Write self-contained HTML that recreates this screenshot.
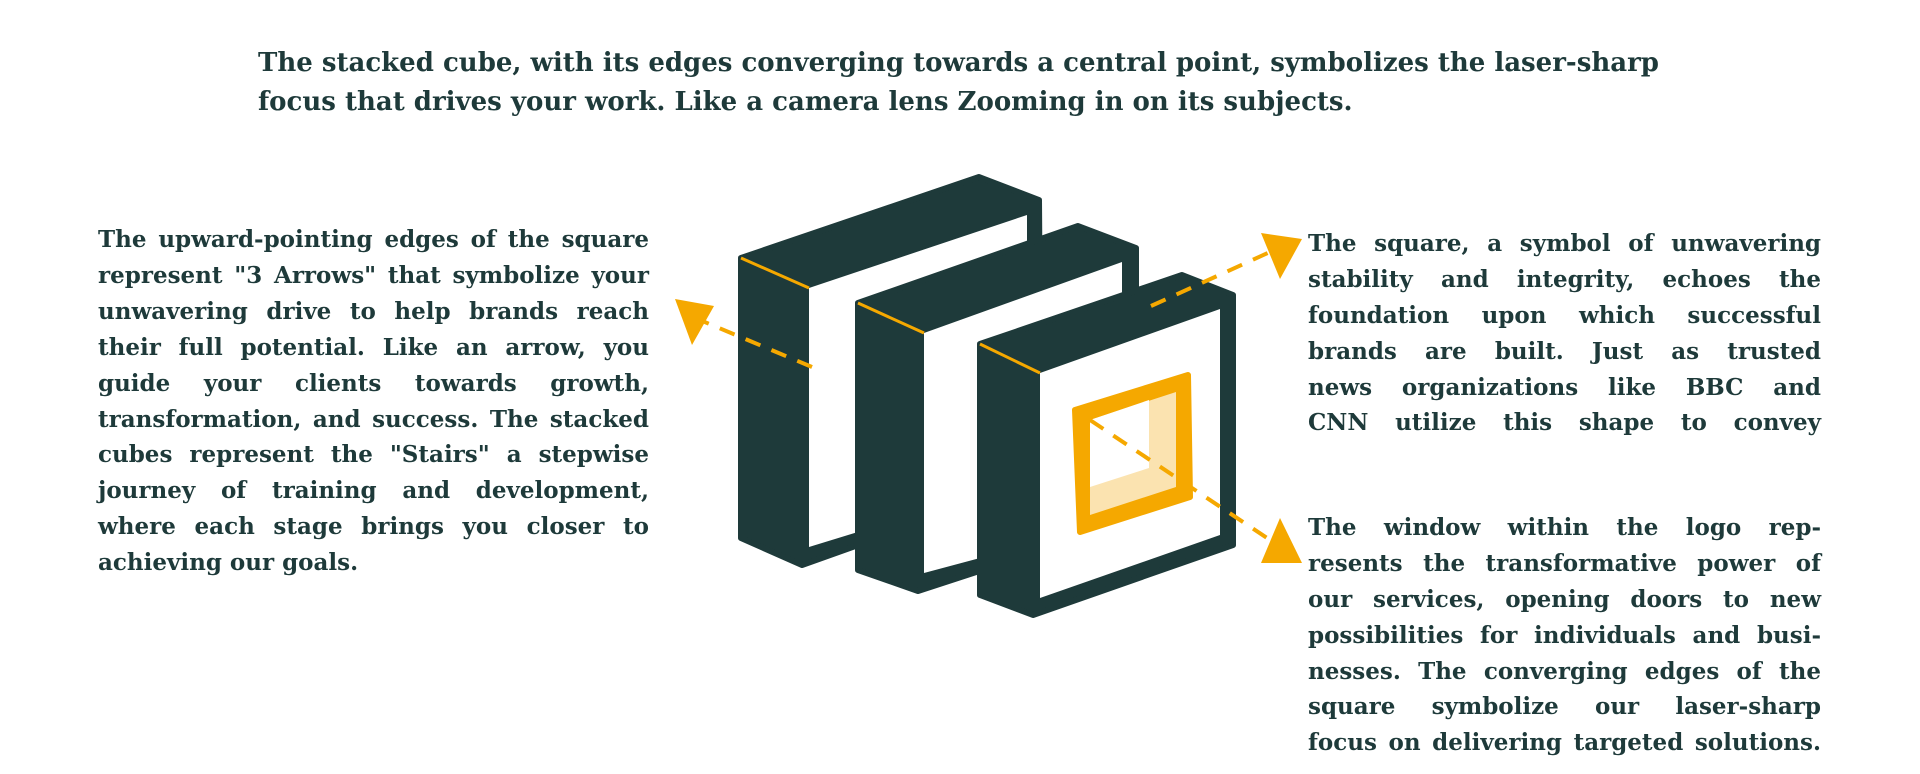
<!DOCTYPE html>
<html><head><meta charset="utf-8"><style>
body{margin:0;width:1920px;height:774px;background:#fff;position:relative;overflow:hidden;font-family:"DejaVu Serif","Liberation Serif",serif;font-weight:bold;color:#1e3a3a}
.t{position:absolute;font-size:23px;line-height:35.9px;text-align:justify;hyphens:manual}
.r div{text-align:justify;text-align-last:justify;white-space:nowrap;height:35.9px}
#title{position:absolute;left:258px;top:44px;font-size:26px;line-height:39px;white-space:nowrap}
svg{position:absolute;left:0;top:0}
</style></head><body>
<div id="title">The stacked cube, with its edges converging towards a central point, symbolizes the laser-sharp<br>focus that drives your work. Like a camera lens Zooming in on its subjects.</div>
<div class="t" style="left:98px;top:222px;width:551px">The upward-pointing edges of the square represent "3 Arrows" that symbolize your unwavering drive to help brands reach their full potential. Like an arrow, you guide your clients towards growth, transformation, and success. The stacked cubes represent the "Stairs" a stepwise journey of training and development, where each stage brings you closer to achieving our goals.</div>
<div class="t r" style="left:1308px;top:226px;width:513px">
<div>The square, a symbol of unwavering</div>
<div>stability and integrity, echoes the</div>
<div>foundation upon which successful</div>
<div>brands are built. Just as trusted</div>
<div>news organizations like BBC and</div>
<div>CNN utilize this shape to convey</div>
</div>
<div class="t r" style="left:1308px;top:510px;width:513px">
<div>The window within the logo rep-</div>
<div>resents the transformative power of</div>
<div>our services, opening doors to new</div>
<div>possibilities for individuals and busi-</div>
<div>nesses. The converging edges of the</div>
<div>square symbolize our laser-sharp</div>
<div>focus on delivering targeted solutions.</div>
</div>
<svg width="1920" height="774" viewBox="0 0 1920 774">
<g stroke-linejoin="round">
<polygon points="741,258 979,177 1039,200 1041,480 802,565 741,538" fill="#1e3a3a" stroke="#1e3a3a" stroke-width="6"/>
<polygon points="809,288 1027,215 1027,480 809,547" fill="#fff"/>
<line x1="741" y1="258" x2="809" y2="288" stroke="#f5a800" stroke-width="3"/>
<polygon points="858,303 1078,226 1136,248 1136,520 918,591 858,570" fill="#1e3a3a" stroke="#1e3a3a" stroke-width="6"/>
<polygon points="924,333 1122,262 1122,520 924,573" fill="#fff"/>
<line x1="858" y1="303" x2="924" y2="333" stroke="#f5a800" stroke-width="3"/>
<polygon points="980,344 1182,275 1233,295 1233,545 1033,615 980,595" fill="#1e3a3a" stroke="#1e3a3a" stroke-width="6"/>
<polygon points="1040,373 1220,309 1220,535 1040,598" fill="#fff"/>
<line x1="980" y1="344" x2="1040" y2="373" stroke="#f5a800" stroke-width="3"/>
<polygon points="1075,410 1188,375 1190,497 1080,532" fill="#f5a800" stroke="#f5a800" stroke-width="6"/>
<polygon points="1090,420 1176,392 1176,487 1090,515" fill="#fbe3b0"/>
<polygon points="1090,420 1149,400 1149,468 1090,487" fill="#fff"/>
</g>
<g stroke="#f5a800" stroke-width="4" stroke-dasharray="16,12" fill="none">
<line x1="812" y1="367" x2="700" y2="320"/>
<line x1="1151" y1="306" x2="1270" y2="252"/>
<line x1="1090" y1="420" x2="1270" y2="540"/>
</g>
<g fill="#f5a800">
<polygon points="675,299 692,345 714,306"/>
<polygon points="1302,239 1261,233 1280,279"/>
<polygon points="1280,518 1261,563 1302,563"/>
</g>
</svg>
</body></html>
